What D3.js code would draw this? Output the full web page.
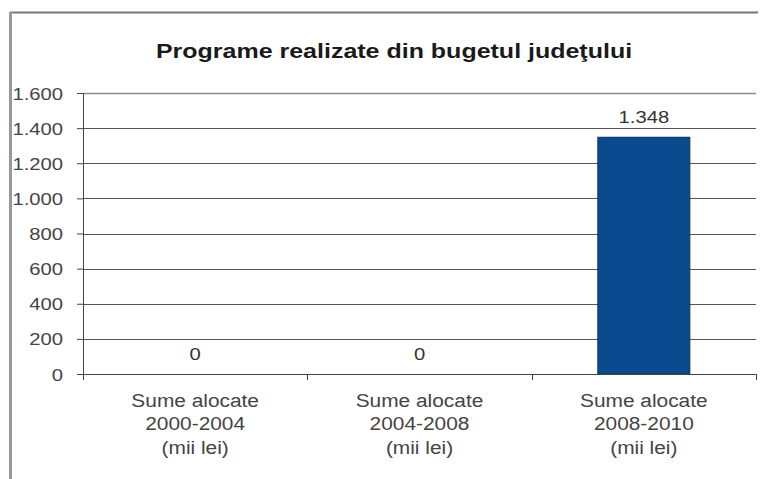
<!DOCTYPE html>
<html>
<head>
<meta charset="utf-8">
<script src="https://cdn.jsdelivr.net/npm/d3@7"></script>
<style>
body{margin:0;background:#fff}
text{font-family:Arial,"Liberation Sans",sans-serif}
</style>
</head>
<body>
<script>
// data
var categories=[
  ["Sume alocate","2000-2004","(mii lei)"],
  ["Sume alocate","2004-2008","(mii lei)"],
  ["Sume alocate","2008-2010","(mii lei)"]
]
var values=[0,0,1348]
var yTicks=[0,200,400,600,800,1000,1200,1400,1600]
var titleText="Programe realizate din bugetul judeţului"

var screen={width:763,height:479}
var margin={top:93,right:7,bottom:105,left:83}
var w=screen.width-margin.left-margin.right
var h=screen.height-margin.top-margin.bottom
var sx=1.19 // the source picture is a little wider than tall

var fmt=function(d){return d3.format(",")(d).replace(/,/g,".")}

var svg=d3.select("body").append("svg")
  .attr('width',screen.width)
  .attr('height',screen.height)

// chart frame (top + left edges visible)
svg.append("line")
  .attr('x1',10).attr('y1',12.5).attr('x2',758).attr('y2',12.5)
  .attr('stroke','#777').attr('stroke-width',2)
svg.append("line")
  .attr('x1',10.5).attr('y1',12).attr('x2',10.5).attr('y2',479)
  .attr('stroke','#999').attr('stroke-width',3)

svg.append("text")
  .attr('transform','translate(394,58) scale('+sx+',1)')
  .attr('text-anchor','middle')
  .style('font-size','21px')
  .style('font-weight','bold')
  .style('fill','#1a1a1a')
  .text(titleText)

var g=svg.append("g").attr('transform','translate('+margin.left+','+margin.top+')')

var x=d3.scaleBand()
  .domain(d3.range(categories.length))
  .range([0,w])
  .paddingInner(0.59)
  .paddingOuter(0.295)
var y=d3.scaleLinear().domain([0,1600]).range([h,0])

// gridlines
g.selectAll(".grid").data(yTicks.slice(1)).enter().append("line")
  .attr('x1',0).attr('x2',w)
  .attr('y1',function(d){return Math.round(y(d))+0.5})
  .attr('y2',function(d){return Math.round(y(d))+0.5})
  .attr('stroke',function(d){return d==1600?'#8a8a8a':'#555'})
  .attr('stroke-width',function(d){return d==1600?1.5:1})

// bars
g.selectAll(".bar").data(values).enter().append("rect")
  .attr('x',function(d,i){return x(i)})
  .attr('y',function(d){return y(d)})
  .attr('width',x.bandwidth())
  .attr('height',function(d){return h-y(d)})
  .style('fill','#0a4a8e')
  .style('stroke','#06305c')
  .style('stroke-width',function(d){return d>0?1:0})

// value labels
g.selectAll(".val").data(values).enter().append("text")
  .attr('transform',function(d,i){
    return 'translate('+(x(i)+x.bandwidth()/2)+','+(y(d)-14)+') scale('+sx+',1)'})
  .attr('text-anchor','middle')
  .style('font-size','17px')
  .style('fill','#333')
  .text(fmt)

// y axis
var yAxis=g.append("g")
  .call(d3.axisLeft(y).tickValues(yTicks).tickSize(6).tickFormat(fmt))
yAxis.select(".domain").attr('stroke','#444')
yAxis.selectAll(".tick line").attr('stroke','#444')
yAxis.selectAll(".tick text")
  .attr('x',0).attr('dy',null)
  .attr('transform','translate(-20,6) scale('+sx+',1)')
  .style('font-size','17px').style('fill','#444')
  .style('font-family','Arial,"Liberation Sans",sans-serif')

// x axis
var xAxis=g.append("g").attr('transform','translate(0,'+h+')')
xAxis.append("line").attr('x1',0).attr('x2',w).attr('y1',0.5).attr('y2',0.5).attr('stroke','#444')
var bandStep=w/categories.length
xAxis.selectAll(".xt").data(d3.range(categories.length+1)).enter().append("line")
  .attr('x1',function(d){return Math.round(d*bandStep)+0.5})
  .attr('x2',function(d){return Math.round(d*bandStep)+0.5})
  .attr('y1',0).attr('y2',6).attr('stroke','#444')

var lbl=xAxis.selectAll(".xl").data(categories).enter().append("text")
  .attr('text-anchor','middle')
  .attr('transform',function(d,i){return 'translate('+(x(i)+x.bandwidth()/2)+',33) scale('+(sx-0.03)+',1)'})
  .style('font-size','18px')
  .style('fill','#444')
lbl.selectAll("tspan").data(function(d){return d}).enter().append("tspan")
  .attr('x',0)
  .attr('dy',function(d,i){return i==0?0:23.5})
  .text(function(d){return d})
</script>
</body>
</html>
